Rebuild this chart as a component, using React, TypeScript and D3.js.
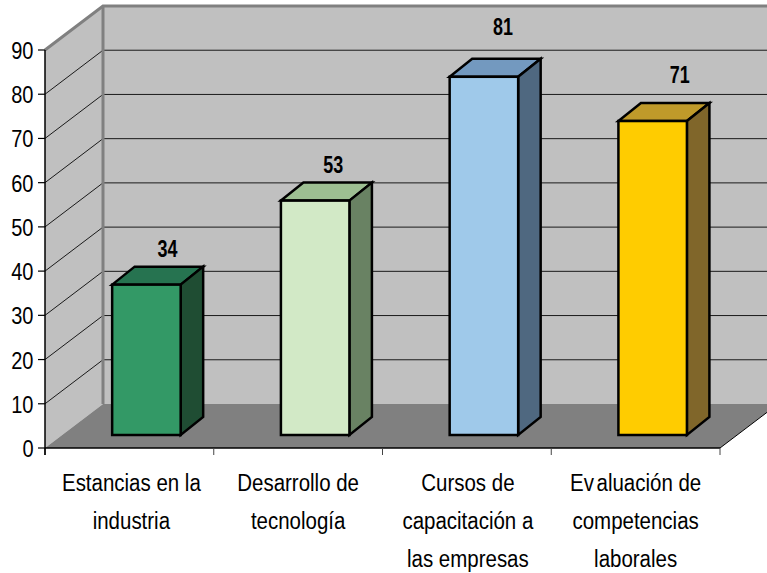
import React from "react";
import * as d3 from "d3";

const categories = ["Estancias en la|industria", "Desarrollo de|tecnología", "Cursos de|capacitación a|las empresas", "Ev~aluación de|competencias|laborales"];
const values = [34, 53, 81, 71];
const frontColors = ["#339966", "#D2E9C6", "#9FC9EA", "#FFCC00"];
const topColors = ["#267350", "#9DBF92", "#7399BF", "#BF9A2A"];
const sideColors = ["#1F4D33", "#698263", "#4F6880", "#80662A"];
const ticks = [0, 10, 20, 30, 40, 50, 60, 70, 80, 90];
const labelLift = [28, 28, 42, 38];
const labelShift = [21, 18, 19, 27];
const catShift = [2, 0, 1, 0];

const W = 767, H = 573;
const x0 = 45, x1 = 720, y0 = 448, y90 = 50;
const dx = 58, dy = 44;
const barDx = 22.5, barDy = 18;
const barBase = 435;

const x = d3.scaleBand<number>().domain(d3.range(categories.length)).range([x0, x1]);
const y = d3.scaleLinear().domain([0, 90]).range([y0, y90]);
const barH = (v: number) => y(0) - y(v);
const barW = 68.5;
const barX = (i: number) => (x(i) as number) + x.bandwidth() * 0.398;
const pts = (p: number[][]) => p.map((q) => q.join(",")).join(" ");
const font = "'Liberation Sans', Arial, sans-serif";

export default function App() {
  return (
    <svg width={W} height={H} style={{ position: "absolute", left: 0, top: 0, background: "#fff" }} fontFamily={font}>
      <polygon points={pts([[x0 + dx, y(90) - dy], [W, y(90) - dy], [W, y(0) - dy], [x0 + dx, y(0) - dy]])} fill="#C0C0C0" />
      <polygon points={pts([[x0, y(90)], [x0 + dx, y(90) - dy], [x0 + dx, y(0) - dy], [x0, y(0)]])} fill="#C0C0C0" />
      <polygon points={pts([[x0, y0], [x0 + dx, y0 - dy], [x1 + dx, y0 - dy], [x1, y0]])} fill="#808080" />
      {ticks.slice(1, -1).map((t) => (
        <polyline key={t} points={pts([[x0, y(t)], [x0 + dx, y(t) - dy], [W, y(t) - dy]])} fill="none" stroke="#1a1a1a" strokeWidth={1} />
      ))}
      <polyline points={pts([[x0, y(90)], [x0 + dx, y(90) - dy], [W, y(90) - dy]])} fill="none" stroke="#808080" strokeWidth={3} />
      <line x1={x0 + dx} x2={x0 + dx} y1={y(90) - dy} y2={y(0) - dy} stroke="#808080" strokeWidth={3} />
      <line x1={x1} y1={y0} x2={W} y2={y0 - (W - x1) * dy / dx} stroke="#000" strokeWidth={1} />
      <line x1={x0} x2={x0} y1={y(90)} y2={y0 + 7} stroke="#000" strokeWidth={1.5} />
      <line x1={x0} x2={x1} y1={y0} y2={y0} stroke="#000" strokeWidth={1.5} />
      {ticks.map((t) => (
        <g key={t}>
          <line x1={x0 - 7} x2={x0} y1={y(t)} y2={y(t)} stroke="#000" strokeWidth={1.2} />
          <text transform={`translate(33.5,${y(t) + 9}) scale(0.87,1)`} textAnchor="end" fontSize={23} fill="#000">{t}</text>
        </g>
      ))}
      {d3.range(categories.length + 1).map((i) => {
        const tx = x0 + i * x.step();
        return <line key={i} x1={tx} x2={tx} y1={y0} y2={y0 + 7} stroke={i === 0 ? "#000" : "#444"} strokeWidth={1} />;
      })}
      {values.map((v, i) => {
        const l = barX(i), r = l + barW, b = barBase, t = barBase - barH(v);
        return (
          <g key={i} stroke="#000" strokeWidth={2.5} strokeLinejoin="miter">
            <polygon points={pts([[l, t], [r, t], [r + barDx, t - barDy], [l + barDx, t - barDy]])} fill={topColors[i]} />
            <polygon points={pts([[r, t], [r + barDx, t - barDy], [r + barDx, b - barDy], [r, b]])} fill={sideColors[i]} />
            <rect x={l} y={t} width={barW} height={b - t} fill={frontColors[i]} />
            <text transform={`translate(${l + barW / 2 + labelShift[i]},${t - labelLift[i]}) scale(0.78,1)`} textAnchor="middle" fontSize={23} fontWeight="bold" stroke="none" fill="#000">{v}</text>
          </g>
        );
      })}
      {categories.map((c, i) => (
        <g key={i}>
          {c.split("|").map((ln, j) => {
            const parts = ln.split("~");
            return (
              <text key={j} transform={`translate(${(x(i) as number) + x.bandwidth() / 2 + catShift[i]},${491 + j * 38}) scale(0.89,1)`} textAnchor="middle" fontSize={23} fill="#000">
                {parts.map((p, k) => <tspan key={k} dx={k ? 3 : 0}>{p}</tspan>)}
              </text>
            );
          })}
        </g>
      ))}
    </svg>
  );
}
